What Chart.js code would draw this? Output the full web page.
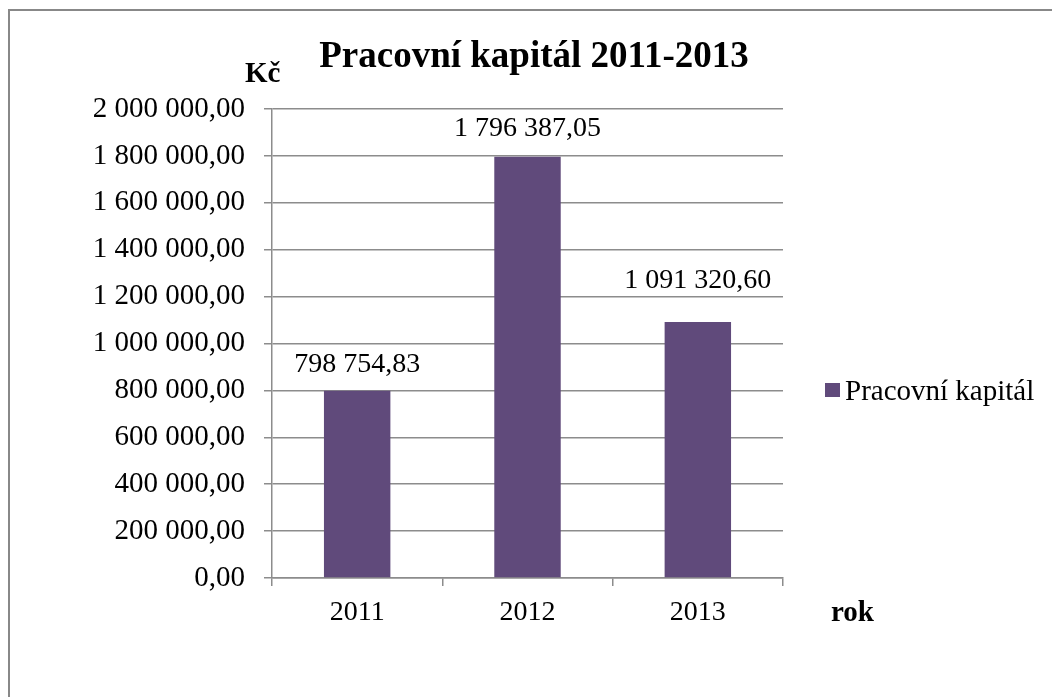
<!DOCTYPE html>
<html>
<head>
<meta charset="utf-8">
<script src="https://cdn.jsdelivr.net/npm/chart.js@4/dist/chart.umd.min.js"></script>
<style>
html,body{margin:0;padding:0;background:#fff;}
canvas{display:block;}
</style>
</head>
<body>
<canvas id="c" width="1052" height="697"></canvas>
<script>
const categories = ['2011', '2012', '2013'];
const seriesLabel = 'Pracovní kapitál';
const values = [798754.83, 1796387.05, 1091320.60];
const yMin = 0;
const yMax = 2000000;
const yStep = 200000;
const titleText = 'Pracovní kapitál 2011-2013';
const yAxisTitle = 'Kč';
const xAxisTitle = 'rok';

const FONT = "'Liberation Serif', 'Times New Roman', serif";
const GRID = '#8c8c8c';
const BAR = '#604a7b';
const labelGaps = [19, 21, 34];

function fmt(v) {
  const parts = v.toFixed(2).split('.');
  const intPart = parts[0].replace(/\B(?=(\d{3})+(?!\d))/g, ' ');
  return intPart + ',' + parts[1];
}

const decor = {
  id: 'decor',
  beforeDraw(chart) {
    const ctx = chart.ctx;
    ctx.save();
    ctx.fillStyle = '#fff';
    ctx.fillRect(0, 0, chart.width, chart.height);
    ctx.strokeStyle = '#888';
    ctx.lineWidth = 2;
    ctx.strokeRect(9, 10, 1200, 900);
    ctx.restore();
  },
  afterDraw(chart) {
    const ctx = chart.ctx;
    ctx.save();
    ctx.fillStyle = '#000';
    // title
    ctx.font = "bold 37px " + FONT;
    ctx.textAlign = 'center';
    ctx.textBaseline = 'alphabetic';
    ctx.fillText(titleText, 534, 67);
    // axis titles
    ctx.font = "bold 29px " + FONT;
    ctx.textAlign = 'left';
    ctx.fillText(yAxisTitle, 245, 82);
    ctx.fillText(xAxisTitle, 831, 621);
    // legend
    ctx.fillStyle = BAR;
    ctx.fillRect(825, 383, 15, 14);
    ctx.fillStyle = '#000';
    ctx.font = "29px " + FONT;
    ctx.fillText(seriesLabel, 845, 400);
    ctx.restore();
  },
  afterDatasetsDraw(chart) {
    const ctx = chart.ctx;
    const meta = chart.getDatasetMeta(0);
    ctx.save();
    ctx.fillStyle = '#000';
    ctx.font = "28px " + FONT;
    ctx.textAlign = 'center';
    ctx.textBaseline = 'alphabetic';
    meta.data.forEach((bar, i) => {
      ctx.fillText(fmt(chart.data.datasets[0].data[i]), bar.x, bar.y - labelGaps[i]);
    });
    ctx.restore();
  }
};

new Chart(document.getElementById('c'), {
  type: 'bar',
  data: {
    labels: categories,
    datasets: [{
      label: seriesLabel,
      data: values,
      backgroundColor: BAR,
      borderWidth: 0,
      barPercentage: 0.78,
      categoryPercentage: 0.5
    }]
  },
  options: {
    responsive: false,
    devicePixelRatio: 1,
    animation: false,
    layout: { padding: { left: 0, right: 269, top: 109, bottom: 59 } },
    plugins: {
      legend: { display: false },
      title: { display: false },
      tooltip: { enabled: false }
    },
    scales: {
      x: {
        afterFit(s) { s.height = 60; },
        grid: { display: true, drawOnChartArea: false, drawTicks: true, tickLength: 8, color: GRID, lineWidth: 1.5, offset: true },
        border: { display: true, color: GRID, width: 1.5 },
        ticks: { color: '#000', font: { family: FONT, size: 28 }, padding: 10 }
      },
      y: {
        min: yMin,
        max: yMax,
        afterFit(s) { s.width = 272; },
        grid: { color: GRID, lineWidth: 1.5, tickLength: 8, drawTicks: true },
        border: { display: true, color: GRID, width: 1.5 },
        ticks: {
          stepSize: yStep,
          color: '#000',
          font: { family: FONT, size: 29 },
          padding: 19,
          callback: (v) => fmt(v)
        }
      }
    }
  },
  plugins: [decor]
});
</script>
</body>
</html>
